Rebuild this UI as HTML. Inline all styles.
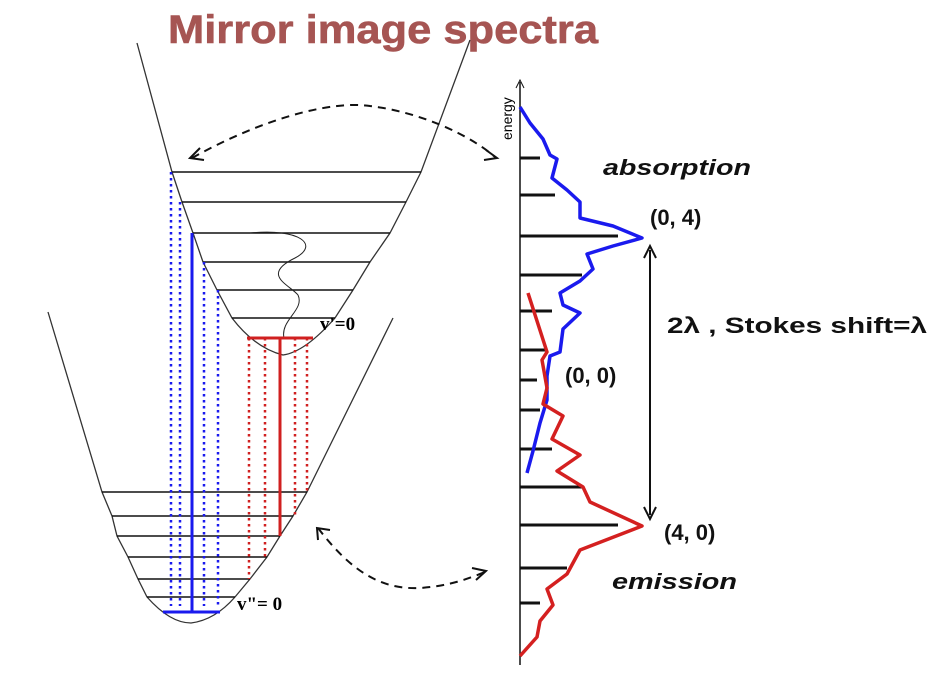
<!DOCTYPE html>
<html><head><meta charset="utf-8"><style>body{margin:0;background:#fff}svg{display:block}</style></head><body>
<svg width="938" height="682" viewBox="0 0 938 682" xmlns="http://www.w3.org/2000/svg" font-family="Liberation Sans, sans-serif">
<text x="168" y="43" font-size="40" font-weight="bold" fill="#a65553" stroke="#a65553" stroke-width="0.6" textLength="430" lengthAdjust="spacingAndGlyphs">Mirror image spectra</text>
<g fill="none" stroke="#333" stroke-width="1.3">
<path d="M137,43 L172,172 L182,202 L193,233 L203,262 L217,290 L232,318 Q255,348 283,355 Q305,352 335,318 L353,290 L370,262 L390,233 L406,202 L421,172 L470,40"/>
<path d="M48,312 L102,492 L112,516 L117,536 L128,557 L138,579 L147,597 Q170,623 191,623 Q215,620 235,597 L250,579 L267,557 L280,536 L293,516 L307,492 L393,318"/>
</g>
<g stroke="#111" stroke-width="1.5">
<line x1="172" y1="172" x2="421" y2="172"/><line x1="182" y1="202" x2="406" y2="202"/><line x1="193" y1="233" x2="390" y2="233"/><line x1="203" y1="262" x2="370" y2="262"/><line x1="217" y1="290" x2="353" y2="290"/><line x1="232" y1="318" x2="335" y2="318"/>
<line x1="102" y1="492" x2="307" y2="492"/><line x1="112" y1="516" x2="293" y2="516"/><line x1="117" y1="536" x2="280" y2="536"/><line x1="128" y1="557" x2="267" y2="557"/><line x1="138" y1="579" x2="250" y2="579"/><line x1="147" y1="597" x2="235" y2="597"/>
</g>
<path d="M250,233 C300,228 320,245 295,258 C260,275 290,285 298,295 C305,310 280,320 284,338" fill="none" stroke="#222" stroke-width="1"/>
<g stroke="#1a1aee" stroke-width="2.5" stroke-dasharray="2.5,3.5">
<line x1="171" y1="172" x2="171" y2="606"/><line x1="180" y1="202" x2="180" y2="606"/><line x1="204" y1="262" x2="204" y2="606"/><line x1="218" y1="290" x2="218" y2="606"/>
</g>
<g stroke="#1a1aee" stroke-width="3"><line x1="192" y1="233" x2="192" y2="612"/><line x1="163" y1="612" x2="220" y2="612"/></g>
<g stroke="#d02020" stroke-width="2.5" stroke-dasharray="2.5,3.5">
<line x1="249" y1="338" x2="249" y2="579"/><line x1="265" y1="338" x2="265" y2="557"/><line x1="295" y1="338" x2="295" y2="516"/><line x1="307" y1="338" x2="307" y2="492"/>
</g>
<g stroke="#d02020" stroke-width="3"><line x1="280" y1="338" x2="280" y2="536"/><line x1="247" y1="338" x2="313" y2="338"/></g>
<text x="320" y="330" font-family="Liberation Serif, serif" font-size="19" font-weight="bold">v'=0</text>
<text x="237" y="610" font-family="Liberation Serif, serif" font-size="19" font-weight="bold">v"= 0</text>
<g fill="none" stroke="#111" stroke-width="2" stroke-dasharray="8,6">
<path d="M192,158 C260,120 330,100 370,106 C420,112 470,135 495,157"/>
<path d="M318,528 C350,570 380,590 420,588 C450,586 470,578 485,572"/>
</g>
<g fill="none" stroke="#111" stroke-width="2">
<path d="M200,148 L190,158 L204,160"/><path d="M486,150 L497,158 L484,160"/>
<path d="M318,540 L317,528 L330,530"/><path d="M472,568 L486,571 L476,580"/>
</g>
<line x1="520" y1="82" x2="520" y2="665" stroke="#111" stroke-width="1.5"/>
<path d="M516,88 L520,80 L524,88" fill="none" stroke="#111" stroke-width="1"/>
<text transform="translate(512,140) rotate(-90)" font-size="14">energy</text>
<g stroke="#111" stroke-width="3">
<line x1="520" y1="158" x2="540" y2="158"/><line x1="520" y1="195" x2="555" y2="195"/><line x1="520" y1="236" x2="618" y2="236"/><line x1="520" y1="275" x2="582" y2="275"/><line x1="520" y1="311" x2="552" y2="311"/><line x1="520" y1="350" x2="545" y2="350"/><line x1="520" y1="380" x2="537" y2="380"/><line x1="520" y1="410" x2="540" y2="410"/><line x1="520" y1="449" x2="552" y2="449"/><line x1="520" y1="487" x2="582" y2="487"/><line x1="520" y1="525" x2="618" y2="525"/><line x1="520" y1="568" x2="567" y2="568"/><line x1="520" y1="603" x2="540" y2="603"/>
</g>
<polyline fill="none" stroke="#1a1aee" stroke-width="3.5" stroke-linejoin="round" points="520,107 530,123 543,139 550,155 557,159 552,178 567,190 580,202 580,218 613,226 642,238 613,246 587,254 593,269 580,281 560,293 563,305 580,313 563,329 560,352 550,356 547,376 547,400 540,423 533,451 527,473"/>
<polyline fill="none" stroke="#d42020" stroke-width="3.5" stroke-linejoin="round" points="528,293 547,352 542,360 547,388 543,404 563,416 552,439 580,455 557,471 583,487 590,502 642,526 580,550 567,574 547,589 553,605 540,621 537,637 520,656"/>
<line x1="650" y1="250" x2="650" y2="515" stroke="#111" stroke-width="2"/>
<path d="M644,258 L650,246 L656,258" fill="none" stroke="#111" stroke-width="2"/>
<path d="M644,507 L650,519 L656,507" fill="none" stroke="#111" stroke-width="2"/>
<g font-weight="bold" font-size="22" fill="#111">
<text x="603" y="175" font-style="italic" textLength="148" lengthAdjust="spacingAndGlyphs">absorption</text>
<text x="650" y="225">(0, 4)</text>
<text x="565" y="383">(0, 0)</text>
<text x="664" y="540">(4, 0)</text>
<text x="612" y="589" font-style="italic" textLength="125" lengthAdjust="spacingAndGlyphs">emission</text>
<text x="667" y="333" textLength="260" lengthAdjust="spacingAndGlyphs">2λ , Stokes shift=λ</text>
</g>
</svg>
</body></html>
